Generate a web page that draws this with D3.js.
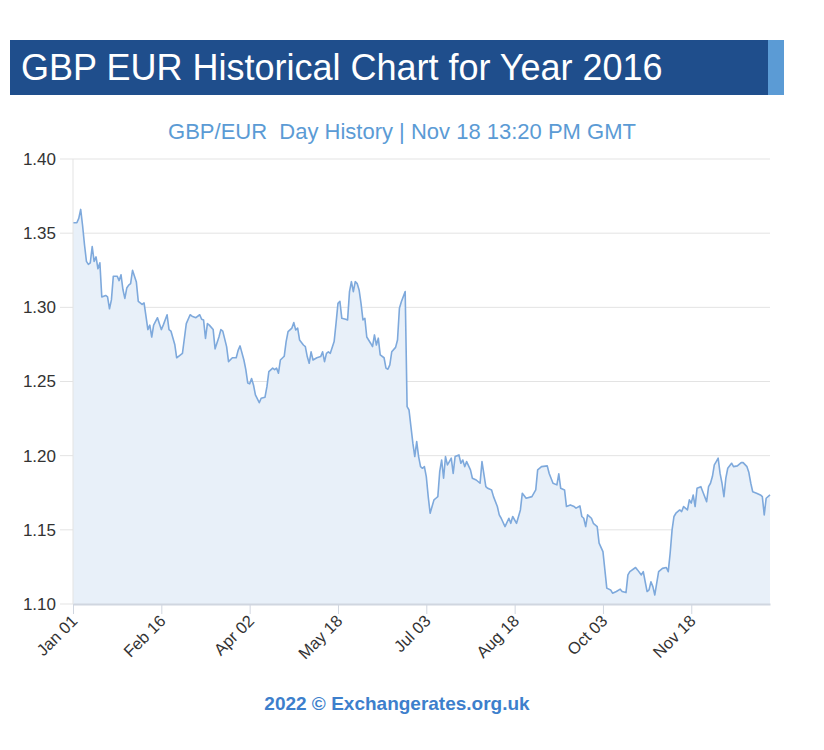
<!DOCTYPE html>
<html>
<head>
<meta charset="utf-8">
<script src="https://cdn.jsdelivr.net/npm/d3@7"></script>
<style>
  body { margin: 0; background: #fff; }
  svg { display: block; font-family: "Liberation Sans", Arial, sans-serif; }
</style>
</head>
<body>
<div id="chart"></div>
<script>
// GBP/EUR daily rate 2016
const dates = [
  "01-01","01-03","01-04","01-05","01-06","01-07","01-08","01-09","01-10","01-11",
  "01-12","01-13","01-14","01-15","01-16","01-18","01-19","01-20","01-21","01-22",
  "01-24","01-25","01-26","01-27","01-28","01-29","01-30","01-31","02-01","02-03",
  "02-04","02-06","02-07","02-08","02-09","02-10","02-11","02-12","02-14","02-15",
  "02-16","02-17","02-19","02-20","02-21","02-23","02-24","02-26","02-27","02-28",
  "02-29","03-02","03-03","03-05","03-07","03-08","03-09","03-10","03-11","03-12",
  "03-14","03-15","03-17","03-18","03-19","03-21","03-22","03-24","03-26","03-27",
  "03-28","03-30","03-31","04-01","04-02","04-03","04-04","04-05","04-07","04-08",
  "04-10","04-11","04-12","04-14","04-15","04-16","04-17","04-18","04-20","04-21",
  "04-22","04-24","04-25","04-26","04-27","04-28","04-30","05-01","05-02","05-03",
  "05-04","05-05","05-07","05-09","05-10","05-11","05-12","05-13","05-14","05-16",
  "05-17","05-18","05-19","05-20","05-22","05-23","05-24","05-25","05-26","05-27",
  "05-28","05-29","05-30","05-31","06-01","06-02","06-04","06-05","06-06","06-07",
  "06-08","06-09","06-11","06-12","06-13","06-14","06-15","06-17","06-18","06-19",
  "06-20","06-22","06-23","06-24","06-25","06-26","06-27","06-28","06-29","06-30",
  "07-01","07-02","07-03","07-04","07-05","07-06","07-07","07-08","07-09","07-10",
  "07-11","07-12","07-13","07-14","07-15","07-16","07-17","07-18","07-20","07-21",
  "07-22","07-23","07-24","07-26","07-27","07-29","07-31","08-01","08-03","08-04",
  "08-06","08-07","08-09","08-10","08-11","08-13","08-15","08-16","08-17","08-19",
  "08-21","08-22","08-24","08-27","08-29","08-30","09-01","09-04","09-05","09-07",
  "09-09","09-10","09-11","09-13","09-14","09-16","09-18","09-19","09-21","09-22",
  "09-23","09-24","09-25","09-27","09-28","09-30","10-01","10-03","10-04","10-05",
  "10-07","10-08","10-10","10-12","10-13","10-15","10-16","10-17","10-20","10-21",
  "10-23","10-24","10-25","10-26","10-27","10-28","10-29","10-30","10-31","11-01",
  "11-03","11-05","11-06","11-07","11-08","11-09","11-10","11-12","11-13","11-14",
  "11-16","11-17","11-18","11-19","11-20","11-21","11-23","11-24","11-26","11-27",
  "11-28","11-29","11-30","12-01","12-02","12-03","12-04","12-05","12-06","12-07",
  "12-09","12-10","12-12","12-14","12-15","12-17","12-18","12-19","12-20","12-22",
  "12-24","12-25","12-26","12-27","12-29"
];
const rates = [
  1.357,1.357,1.360,1.366,1.355,1.342,1.331,1.329,1.330,1.341,
  1.331,1.334,1.326,1.330,1.307,1.308,1.307,1.299,1.305,1.321,
  1.321,1.318,1.322,1.312,1.306,1.313,1.315,1.316,1.325,1.317,
  1.304,1.302,1.303,1.294,1.285,1.288,1.280,1.288,1.293,1.289,
  1.285,1.288,1.295,1.285,1.284,1.275,1.266,1.268,1.269,1.279,
  1.289,1.295,1.294,1.293,1.295,1.292,1.2915,1.279,1.289,1.288,
  1.285,1.272,1.280,1.285,1.284,1.2735,1.2634,1.266,1.266,1.271,
  1.274,1.2645,1.258,1.249,1.2484,1.252,1.2477,1.241,1.2357,1.2387,
  1.2394,1.2465,1.2567,1.259,1.258,1.259,1.2556,1.2645,1.267,1.2769,
  1.2836,1.286,1.2897,1.2847,1.286,1.278,1.2746,1.2735,1.2668,1.2623,
  1.270,1.2645,1.266,1.2668,1.270,1.2634,1.269,1.270,1.269,1.2769,
  1.2893,1.3027,1.304,1.2926,1.292,1.2915,1.3106,1.3173,1.3106,1.3173,
  1.316,1.3117,1.3027,1.2915,1.2926,1.280,1.2758,1.2735,1.2814,1.2746,
  1.2792,1.2679,1.266,1.259,1.2583,1.2612,1.270,1.273,1.278,1.2994,
  1.3038,1.3106,1.233,1.2308,1.2196,1.2084,1.1994,1.2095,1.1994,1.1926,
  1.1915,1.1926,1.1859,1.1724,1.1612,1.1657,1.1702,1.1713,1.1724,1.1894,
  1.1971,1.1848,1.1994,1.1938,1.196,1.1983,1.188,1.1994,1.2005,1.1949,
  1.1971,1.1926,1.196,1.1904,1.1848,1.1836,1.1814,1.196,1.1791,1.1780,
  1.1769,1.1724,1.1657,1.1601,1.1578,1.1522,1.1578,1.1544,1.159,1.1544,
  1.1634,1.1747,1.1713,1.1724,1.1769,1.1904,1.1926,1.1931,1.188,1.1814,
  1.1803,1.1877,1.178,1.1769,1.1657,1.1668,1.1657,1.1646,1.1661,1.159,
  1.1578,1.1522,1.1601,1.1578,1.1544,1.1522,1.141,1.1353,1.123,1.1107,
  1.1095,1.1073,1.1084,1.110,1.1084,1.1077,1.1196,1.1218,1.1246,1.123,
  1.1196,1.1218,1.115,1.1084,1.1095,1.115,1.1117,1.1061,1.114,1.1218,
  1.124,1.1246,1.1218,1.1342,1.150,1.159,1.1612,1.1634,1.1623,1.1657,
  1.1634,1.1702,1.168,1.1735,1.1657,1.178,1.1791,1.1757,1.169,1.1791,
  1.1814,1.1859,1.1938,1.196,1.1983,1.188,1.1814,1.1724,1.1848,1.1915,
  1.1949,1.1926,1.1931,1.1953,1.1953,1.1926,1.1886,1.1814,1.1757,1.1747,
  1.1735,1.1724,1.1601,1.1713,1.1735
];
const yTicks = [1.10, 1.15, 1.20, 1.25, 1.30, 1.35, 1.40];
const xTickDates = ["01-01","02-16","04-02","05-18","07-03","08-18","10-03","11-18"];
const titleText = "GBP EUR Historical Chart for Year 2016";
const subtitleText = "GBP/EUR  Day History | Nov 18 13:20 PM GMT";
const creditText = "2022 \u00a9 Exchangerates.org.uk";

const W = 824, H = 750;
const plot = { left: 73, right: 770, top: 159, bottom: 604 };

const parse = d3.timeParse("%Y-%m-%d");
const toDate = s => parse("2016-" + s);
const data = dates.map((d, i) => ({ date: toDate(d), value: rates[i] }));

const svg = d3.select("#chart").append("svg")
    .attr("width", W)
    .attr("height", H);

// header bar
svg.append("rect")
    .attr("x", 10).attr("y", 40)
    .attr("width", 758).attr("height", 55)
    .attr("fill", "#1f4e8c");
svg.append("rect")
    .attr("x", 768).attr("y", 40)
    .attr("width", 16).attr("height", 55)
    .attr("fill", "#5b9bd5");
svg.append("text")
    .attr("x", 21).attr("y", 80)
    .attr("fill", "#fff")
    .style("font-size", "36px")
    .text(titleText);

svg.append("text")
    .attr("x", 402).attr("y", 139)
    .attr("text-anchor", "middle")
    .attr("fill", "#5b9bd5")
    .style("font-size", "22px")
    .style("white-space", "pre")
    .text(subtitleText);

const x = d3.scaleTime()
    .domain([toDate("01-01"), toDate("12-29")])
    .range([plot.left, plot.right]);
const y = d3.scaleLinear()
    .domain([1.10, 1.40])
    .range([plot.bottom, plot.top]);

// grid
svg.append("g")
    .selectAll("line")
    .data(yTicks)
    .join("line")
    .attr("x1", 60).attr("x2", plot.right)
    .attr("y1", d => y(d)).attr("y2", d => y(d))
    .attr("stroke", "#e3e3e3")
    .attr("stroke-width", 1);

// y labels
svg.append("g")
    .selectAll("text")
    .data(yTicks)
    .join("text")
    .attr("x", 56)
    .attr("y", d => y(d))
    .attr("dy", "0.35em")
    .attr("text-anchor", "end")
    .attr("fill", "#333")
    .style("font-size", "17px")
    .text(d => d.toFixed(2));

// area + line
const area = d3.area()
    .x(d => x(d.date))
    .y0(y(1.10))
    .y1(d => y(d.value));
const line = d3.line()
    .x(d => x(d.date))
    .y(d => y(d.value));

svg.append("path")
    .datum(data)
    .attr("d", area)
    .attr("fill", "#e8f0f9");
svg.append("path")
    .datum(data)
    .attr("d", line)
    .attr("fill", "none")
    .attr("stroke", "#7ea9dc")
    .attr("stroke-width", 1.6)
    .attr("stroke-linejoin", "round");

// left axis line
svg.append("line")
    .attr("x1", plot.left).attr("x2", plot.left)
    .attr("y1", plot.top).attr("y2", plot.bottom)
    .attr("stroke", "#e3e3e3");

// x axis
const xAxis = d3.axisBottom(x)
    .tickValues(xTickDates.map(toDate))
    .tickFormat(d3.timeFormat("%b %d"))
    .tickSize(10)
    .tickSizeOuter(0);
const gx = svg.append("g")
    .attr("transform", `translate(0,${plot.bottom})`)
    .call(xAxis);
gx.select(".domain").attr("stroke", "#d0d6e0").attr("stroke-width", 2);
gx.selectAll(".tick line").attr("stroke", "#d0d6e0");
gx.selectAll(".tick text")
    .attr("fill", "#333")
    .style("font-size", "16.5px")
    .style("font-family", "Liberation Sans, Arial, sans-serif")
    .attr("text-anchor", "end")
    .attr("dy", null)
    .attr("y", 0)
    .attr("transform", "translate(5,18) rotate(-45)");

svg.append("text")
    .attr("x", 397).attr("y", 710)
    .attr("text-anchor", "middle")
    .attr("fill", "#3d7fcc")
    .style("font-size", "19px")
    .style("font-weight", "bold")
    .text(creditText);
</script>
</body>
</html>
